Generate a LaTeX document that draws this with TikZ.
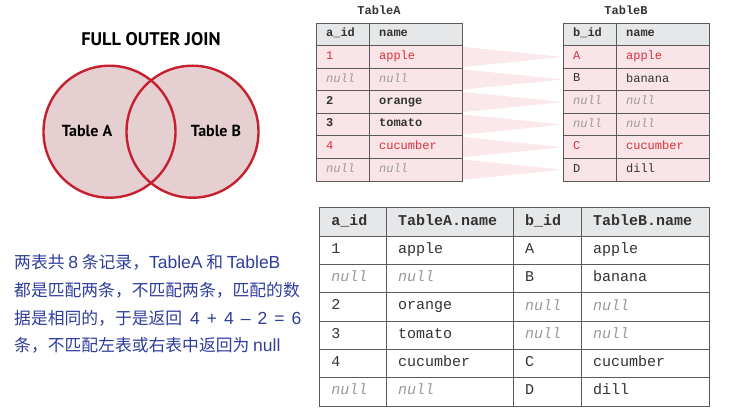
\documentclass[tikz,border=0pt]{standalone}
\usepackage{fontspec}
\setmainfont{Liberation Sans}
\setmonofont{Liberation Mono}
\newfontfamily\cjk{Noto Sans CJK SC}
\newfontfamily\latinfont{Liberation Sans}
\newfontfamily\vennfont{PT Sans}
\usetikzlibrary{backgrounds}
\definecolor{tabgray}{HTML}{5A5A5A}
\definecolor{headgray}{HTML}{E6E7E8}
\definecolor{rowpink}{HTML}{F9E4E8}
\definecolor{matchred}{HTML}{D7313D}
\definecolor{textgray}{HTML}{333333}
\definecolor{nullgray}{HTML}{9A9A9A}
\definecolor{vennred}{HTML}{C4202E}
\definecolor{vennfill}{HTML}{E6CFD0}
\definecolor{noteblue}{HTML}{2F3D9B}
\newcommand{\nullval}{\textcolor{nullgray}{\itshape null}}
\newcommand{\lat}[1]{{\latinfont\fontsize{17.5}{17.5}\selectfont #1}}
\tikzset{
  cell/.style={draw=tabgray, line width=0.8pt, rectangle, anchor=north west,
    inner xsep=10pt, inner ysep=0pt, align=left, text=textgray,
    execute at begin node=\strut},
  topcell/.style={cell, minimum height=22.55pt, fill=rowpink,
    font=\ttfamily\fontsize{12}{12}\selectfont},
  tophead/.style={topcell, fill=headgray,
    font=\ttfamily\bfseries\fontsize{12}{12}\selectfont},
  redrow/.style={text=matchred},
  boldrow/.style={font=\ttfamily\bfseries\fontsize{12}{12}\selectfont},
  plainrow/.style={},
  narrowcol/.style={minimum width=53pt, text width=33pt},
  widecol/.style={minimum width=93pt, text width=73pt},
  botcell/.style={cell, minimum height=28.3pt, inner xsep=12pt, fill=white,
    font=\ttfamily\fontsize{15}{15}\selectfont},
  bothead/.style={botcell, minimum height=28.4pt, fill=headgray,
    font=\ttfamily\bfseries\fontsize{15}{15}\selectfont},
  colone/.style={minimum width=66.7pt, text width=42.7pt},
  coltwo/.style={minimum width=127pt, text width=103pt},
  colthree/.style={minimum width=68pt, text width=44pt},
  colfour/.style={minimum width=128.6pt, text width=104.6pt},
  wedge/.style={fill=rowpink!85},
  circ/.style={draw=vennred, line width=2.4pt},
  notetext/.style={anchor=base west, inner sep=0pt, text=noteblue,
    font=\cjk\fontsize{16.8}{16.8}\selectfont},
}
\begin{document}
\begin{tikzpicture}[x=1pt,y=-1pt]
    \useasboundingbox (0,0) rectangle (733,417);
    % venn diagram
    \fill[vennfill] (109.5,131.7) circle[radius=66pt];
    \fill[vennfill] (192.5,131.7) circle[radius=66pt];
    \draw[circ] (109.5,131.7) circle[radius=66pt];
    \draw[circ] (192.5,131.7) circle[radius=66pt];
    \node[font=\vennfont\bfseries\fontsize{18.3}{18.3}\selectfont] (title) at (151,39) {FULL OUTER JOIN};
    \node[font=\vennfont\bfseries\fontsize{16}{16}\selectfont] (labelA) at (87,131) {Table A};
    \node[font=\vennfont\bfseries\fontsize{16}{16}\selectfont] (labelB) at (216,131) {Table B};

    % TableA
    \node[font=\ttfamily\bfseries\fontsize{12}{12}\selectfont, text=textgray] (titleA) at (379,10.7) {TableA};
    \node[tophead, narrowcol] (A-id-0) at (315.7,22.7) {a\_id};
    \node[tophead, widecol] (A-name-0) at (368.7,22.7) {name};
    \foreach \r/\id/\nm/\rs in {1/1/apple/redrow, 2/\nullval/\nullval/plainrow,
        3/2/orange/boldrow, 4/3/tomato/boldrow, 5/4/cucumber/redrow,
        6/\nullval/\nullval/plainrow} {
        \node[topcell, narrowcol, \rs] (A-id-\r) at (315.7,{22.7+22.55*\r}) {\id};
        \node[topcell, widecol, \rs] (A-name-\r) at (368.7,{22.7+22.55*\r}) {\nm};
    }

    % TableB
    \node[font=\ttfamily\bfseries\fontsize{12}{12}\selectfont, text=textgray] (titleB) at (626,10.7) {TableB};
    \node[tophead, narrowcol] (B-id-0) at (562.7,22.7) {b\_id};
    \node[tophead, widecol] (B-name-0) at (615.7,22.7) {name};
    \foreach \r/\id/\nm/\rs in {1/A/apple/redrow, 2/B/banana/plainrow,
        3/\nullval/\nullval/plainrow, 4/\nullval/\nullval/plainrow,
        5/C/cucumber/redrow, 6/D/dill/plainrow} {
        \node[topcell, narrowcol, \rs] (B-id-\r) at (562.7,{22.7+22.55*\r}) {\id};
        \node[topcell, widecol, \rs] (B-name-\r) at (615.7,{22.7+22.55*\r}) {\nm};
    }

    % row to row wedges
    \begin{scope}[on background layer]
        \foreach \r in {1,...,6}
            \fill[wedge] ([yshift=-1.5pt]A-name-\r.north east) -- ([yshift=1.5pt]A-name-\r.south east)
                -- (B-id-\r.west) -- cycle;
    \end{scope}

    % joined result
    \node[bothead, colone] (J-a-0) at (319,207.3) {a\_id};
    \node[bothead, coltwo] (J-b-0) at (385.7,207.3) {TableA.name};
    \node[bothead, colthree] (J-c-0) at (512.7,207.3) {b\_id};
    \node[bothead, colfour] (J-d-0) at (580.7,207.3) {TableB.name};
    \foreach \r/\a/\b/\c/\d in {1/1/apple/A/apple, 2/\nullval/\nullval/B/banana,
        3/2/orange/\nullval/\nullval, 4/3/tomato/\nullval/\nullval,
        5/4/cucumber/C/cucumber, 6/\nullval/\nullval/D/dill} {
        \node[botcell, colone] (J-a-\r) at (319,{207.3+28.4+28.3*(\r-1)}) {\a};
        \node[botcell, coltwo] (J-b-\r) at (385.7,{207.3+28.4+28.3*(\r-1)}) {\b};
        \node[botcell, colthree] (J-c-\r) at (512.7,{207.3+28.4+28.3*(\r-1)}) {\c};
        \node[botcell, colfour] (J-d-\r) at (580.7,{207.3+28.4+28.3*(\r-1)}) {\d};
    }

    % note
    \node[notetext] (note1) at (14,268.8) {两表共 \lat{8} 条记录，\lat{TableA} 和 \lat{TableB}};
    \node[notetext] (note2) at (14,296.8) {都是匹配两条，不匹配两条，匹配的数};
    \node[notetext] (note3) at (14,324.3) {据是相同的，于是返回\hspace{8pt}\lat{4\hspace{7pt}+\hspace{7pt}4\hspace{7pt}–\hspace{7pt}2\hspace{7pt}=\hspace{7pt}6}};
    \node[notetext] (note4) at (14,351.8) {条，不匹配左表或右表中返回为 \lat{null}};
\end{tikzpicture}
\end{document}
